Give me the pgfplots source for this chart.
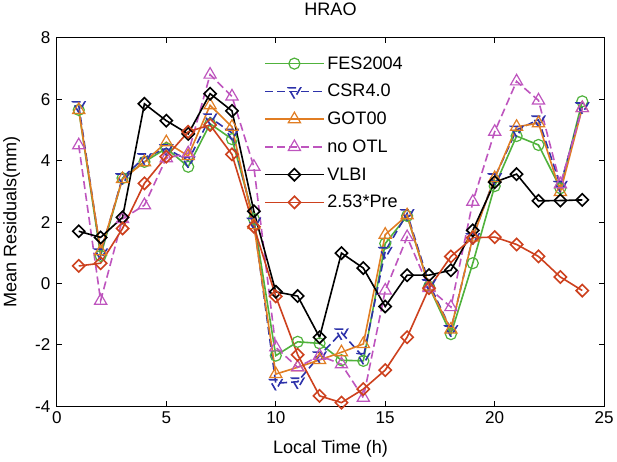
\documentclass[border=0pt]{standalone}
\usepackage{pgfplots}
\pgfplotsset{compat=1.18}
\usepackage{fontspec}
\setmainfont{Liberation Sans}
\definecolor{cfes}{RGB}{80,178,60}
\definecolor{ccsr}{RGB}{45,50,170}
\definecolor{cgot}{RGB}{225,125,35}
\definecolor{cotl}{RGB}{190,85,190}
\definecolor{cpre}{RGB}{205,65,30}
\begin{document}
\begin{tikzpicture}
\begin{axis}[
  width=545pt, height=367pt, scale only axis,
  xmin=0, xmax=25, ymin=-4, ymax=8,
  xtick={0,5,...,25}, ytick={-4,-2,...,8},
  tick align=inside, tick pos=both,
  major tick length=5pt,
  axis line style={line width=1pt},
  every tick/.style={black,line width=0.8pt},
  /pgf/number format/assume math mode=true,
  tick label style={font=\fontsize{17}{20}\selectfont},
  yticklabel style={xshift=-3pt},
  xticklabel style={yshift=-2pt},
  label style={font=\fontsize{18}{21}\selectfont},
  title style={font=\fontsize{18}{21}\selectfont, yshift=12pt},
  title={HRAO},
  xlabel={Local Time (h)},
  xlabel style={yshift=-10pt},
  ylabel={Mean Residuals(mm)},
  ylabel style={yshift=8pt},
  legend style={at={(0.379,0.955)}, anchor=north west, draw=none, fill=none,
    font=\fontsize{18}{21}\selectfont, row sep=9.6pt, inner sep=0pt,
    nodes={font=\fontsize{18}{21}\selectfont, inner xsep=3pt}},
  legend cell align=left,
  legend image code/.code={\draw[mark repeat=2,mark phase=2,#1] plot coordinates {(0pt,0pt) (29pt,0pt) (58pt,0pt)};},
  pl/.style={line width=1.6pt, mark options={solid, line width=1.2pt}},
]
\addplot[pl, cfes, mark=o, mark size=5.5pt] coordinates {
(1,5.65)(2,0.9)(3,3.43)(4,3.96)(5,4.4)(6,3.8)(7,5.2)(8,4.7)(9,2.1)(10,-2.35)(11,-1.9)(12,-1.95)(13,-2.5)(14,-2.52)(15,1.3)(16,2.2)(17,-0.1)(18,-1.65)(19,0.66)(20,3.17)(21,4.8)(22,4.51)(23,3.1)(24,5.93)};
\addlegendentry{FES2004}
\addplot[pl, ccsr, dash pattern=on 8pt off 4pt, mark=triangle, mark size=7pt, mark options={rotate=180}] coordinates {
(1,5.8)(2,1.0)(3,3.45)(4,4.1)(5,4.4)(6,4.0)(7,5.4)(8,4.9)(9,2.0)(10,-3.25)(11,-3.2)(12,-2.35)(13,-1.6)(14,-2.4)(15,1.05)(16,2.28)(17,0.0)(18,-1.5)(19,1.5)(20,3.45)(21,5.0)(22,5.33)(23,3.2)(24,5.76)};
\addlegendentry{CSR4.0}
\addplot[pl, cgot, mark=triangle, mark size=7pt] coordinates {
(1,5.65)(2,1.05)(3,3.4)(4,3.95)(5,4.6)(6,4.15)(7,5.8)(8,5.1)(9,1.9)(10,-2.95)(11,-2.73)(12,-2.49)(13,-2.24)(14,-1.97)(15,1.59)(16,2.22)(17,-0.1)(18,-1.5)(19,1.5)(20,3.43)(21,5.1)(22,5.22)(23,2.98)(24,5.71)};
\addlegendentry{GOT00}
\addplot[pl, cotl, dash pattern=on 8pt off 4pt, mark=triangle, mark size=7pt] coordinates {
(1,4.5)(2,-0.56)(3,2.1)(4,2.55)(5,4.08)(6,4.24)(7,6.8)(8,6.09)(9,3.8)(10,-2.08)(11,-2.73)(12,-2.35)(13,-2.63)(14,-3.72)(15,-0.23)(16,1.51)(17,-0.15)(18,-0.77)(19,2.66)(20,4.94)(21,6.58)(22,5.96)(23,3.23)(24,5.71)};
\addlegendentry{no OTL}
\addplot[pl, black, mark=square, mark size=4.3pt, mark options={rotate=45}] coordinates {
(1,1.7)(2,1.5)(3,2.15)(4,5.85)(5,5.3)(6,4.87)(7,6.18)(8,5.62)(9,2.35)(10,-0.27)(11,-0.41)(12,-1.75)(13,0.99)(14,0.5)(15,-0.75)(16,0.27)(17,0.27)(18,0.43)(19,1.73)(20,3.3)(21,3.56)(22,2.69)(23,2.7)(24,2.72)};
\addlegendentry{VLBI}
\addplot[pl, cpre, mark=square, mark size=4.3pt, mark options={rotate=45}] coordinates {
(1,0.57)(2,0.66)(3,1.79)(4,3.26)(5,4.13)(6,4.94)(7,5.16)(8,4.2)(9,1.85)(10,-0.42)(11,-2.32)(12,-3.66)(13,-3.88)(14,-3.44)(15,-2.82)(16,-1.75)(17,-0.15)(18,0.88)(19,1.49)(20,1.51)(21,1.27)(22,0.88)(23,0.21)(24,-0.23)};
\addlegendentry{2.53*Pre}
\end{axis}
\end{tikzpicture}
\end{document}
